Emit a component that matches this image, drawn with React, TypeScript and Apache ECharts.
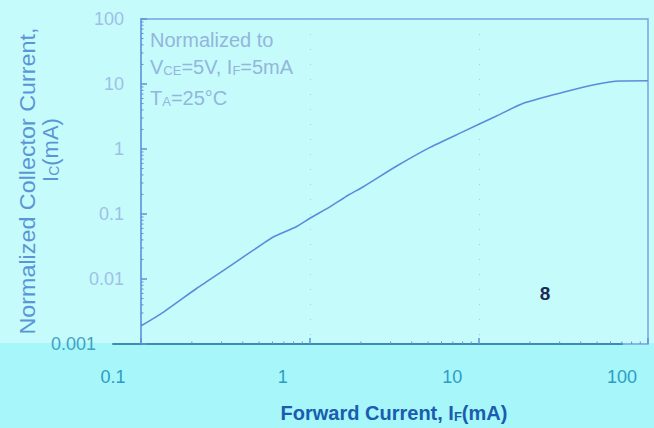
import React, { useEffect, useRef } from 'react';
import * as echarts from 'echarts';

// Forward current I_F (mA) and normalized collector current I_C (mA)
const forwardCurrent = [0.1, 0.136, 0.214, 0.336, 0.53, 0.61, 0.83, 1.0, 1.31, 1.69, 2.07, 3.26, 5.13, 8.07, 12.7, 18.3, 31.5, 49.7, 68.3, 100];
const collectorCurrent = [0.0019, 0.0031, 0.0072, 0.0158, 0.0354, 0.0448, 0.0638, 0.086, 0.129, 0.196, 0.263, 0.547, 1.06, 1.85, 3.22, 5.05, 7.45, 9.9, 11.1, 11.2];

const xTickLabels = ['0.1', '1', '10', '100'];
const yTickLabels = ['0.001', '0.01', '0.1', '1', '10', '100'];

const xMinorTicks = [0.2, 0.3, 0.4, 0.5, 0.6, 0.7, 0.8, 0.9, 2, 3, 4, 5, 6, 7, 8, 9, 20, 30, 40, 50, 60, 70, 80, 90];
const yMinorTicks = [
  0.002, 0.003, 0.004, 0.005, 0.006, 0.007, 0.008, 0.009,
  0.02, 0.03, 0.04, 0.05, 0.06, 0.07, 0.08, 0.09,
  0.2, 0.3, 0.4, 0.5, 0.6, 0.7, 0.8, 0.9,
  2, 3, 4, 5, 6, 7, 8, 9,
  20, 30, 40, 50, 60, 70, 80, 90,
];

const X_MIN = 0.1;
const X_MAX = 100;
const Y_MIN = 0.001;
const Y_MAX = 100;

const FONT = "'Liberation Sans', Arial, sans-serif";
const TOP_BG = '#c6fbfb';
const BAND_BG = '#a6f6fa';
const TICK = '#5f93d4';

const xLabel = (v: number) => xTickLabels[Math.round(Math.log10(v)) + 1] ?? '';
const yLabel = (v: number) => {
  const i = Math.round(Math.log10(v)) + 3;
  const t = yTickLabels[i] ?? '';
  return i === 0 ? `{low|${t}}` : t;
};

const series = forwardCurrent.map((x, i) => [x, collectorCurrent[i]]);

const minorTickSeries = (data: number[][], horizontal: boolean, len: number) => ({
  type: 'custom', xAxisIndex: 0, yAxisIndex: 0, silent: true, clip: false, z: 3,
  data,
  renderItem: (_p: any, api: any) => {
    const pt = api.coord([api.value(0), api.value(1)]);
    return {
      type: 'line',
      shape: horizontal
        ? { x1: pt[0], y1: pt[1], x2: pt[0] + len, y2: pt[1] }
        : { x1: pt[0], y1: pt[1], x2: pt[0], y2: pt[1] - len },
      style: { stroke: TICK, lineWidth: 1 },
    };
  },
});

const option: any = {
  animation: false,
  backgroundColor: {
    type: 'linear', x: 0, y: 0, x2: 0, y2: 1,
    colorStops: [
      { offset: 0, color: TOP_BG },
      { offset: 343 / 428, color: TOP_BG },
      { offset: 343 / 428, color: BAND_BG },
      { offset: 1, color: BAND_BG },
    ],
  },
  grid: [
    { left: 141, right: 6, top: 19, bottom: 84, show: true, borderColor: '#74a4e4', borderWidth: 1.5, backgroundColor: 'transparent' },
    { left: 113, right: 32, top: 19, bottom: 84 },
  ],
  xAxis: [
    {
      gridIndex: 0, type: 'log', logBase: 10, min: X_MIN, max: X_MAX, position: 'bottom',
      axisLine: { show: false },
      axisLabel: { show: false },
      axisTick: { show: true, inside: true, length: 6, lineStyle: { color: TICK, width: 1.5 } },
      splitLine: { show: true, lineStyle: { color: 'rgba(140,190,235,0.7)', type: [1, 14] } },
    },
    {
      gridIndex: 1, type: 'log', logBase: 10, min: X_MIN, max: X_MAX, position: 'bottom',
      axisLine: { show: true, lineStyle: { color: '#3b8db4', width: 2 } },
      axisTick: { show: false },
      axisLabel: { show: true, margin: 24, fontSize: 18, color: '#2e9dc2', fontFamily: FONT, formatter: xLabel, showMinLabel: true, showMaxLabel: true },
      splitLine: { show: false },
    },
  ],
  yAxis: [
    {
      gridIndex: 0, type: 'log', logBase: 10, min: Y_MIN, max: Y_MAX, position: 'left',
      axisLine: { show: true, lineStyle: { color: '#6d9fe3', width: 1.5 } },
      axisTick: { show: true, inside: true, length: 6, lineStyle: { color: TICK, width: 1.5 } },
      axisLabel: {
        show: true, margin: 17, fontSize: 18, color: '#9fc0e6', fontFamily: FONT, formatter: yLabel,
        showMinLabel: true, showMaxLabel: true,
        rich: { low: { fontSize: 18, color: '#3fa2c4', fontFamily: FONT, padding: [0, 28, 0, 0] } },
      },
      splitLine: { show: false },
    },
    { gridIndex: 1, type: 'value', show: false },
  ],
  series: [
    {
      type: 'line', xAxisIndex: 0, yAxisIndex: 0, data: series,
      showSymbol: false, smooth: 0.2,
      lineStyle: { color: '#5a8cdc', width: 1.6 },
    },
    minorTickSeries(yMinorTicks.map((v) => [X_MIN, v]), true, 2.5),
    minorTickSeries(xMinorTicks.map((v) => [v, Y_MIN]), false, 2.5),
  ],
  graphic: [
    {
      type: 'text', x: 27, y: 181, rotation: Math.PI / 2, scaleX: 1.06,
      style: { text: 'Normalized Collector Current,', fontSize: 22, fontFamily: FONT, fill: '#5a96d6', align: 'center', verticalAlign: 'middle' },
    },
    {
      type: 'text', x: 50, y: 150, rotation: Math.PI / 2,
      style: {
        text: 'I{s|C}(mA)', fontSize: 22, fontFamily: FONT, fill: '#5a96d6', align: 'center', verticalAlign: 'middle',
        rich: { s: { fontSize: 14, fontFamily: FONT, fill: '#5a96d6', verticalAlign: 'bottom' } },
      },
    },
    {
      type: 'text', x: 394, y: 413,
      style: {
        text: 'Forward Current, I{s|F}(mA)', fontSize: 20, fontWeight: 'bold', fontFamily: FONT, fill: '#1a5cae', align: 'center', verticalAlign: 'middle',
        rich: { s: { fontSize: 13, fontWeight: 'bold', fontFamily: FONT, fill: '#1a5cae', verticalAlign: 'bottom' } },
      },
    },
    {
      type: 'text', x: 150, y: 40,
      style: { text: 'Normalized to', fontSize: 20, fontFamily: FONT, fill: '#93b6dc', align: 'left', verticalAlign: 'middle' },
    },
    {
      type: 'text', x: 150, y: 67,
      style: {
        text: 'V{s|CE}=5V, I{s|F}=5mA', fontSize: 20, fontFamily: FONT, fill: '#93b6dc', align: 'left', verticalAlign: 'middle',
        rich: { s: { fontSize: 13, fontFamily: FONT, fill: '#93b6dc', verticalAlign: 'bottom' } },
      },
    },
    {
      type: 'text', x: 150, y: 98,
      style: {
        text: 'T{s|A}=25°C', fontSize: 20, fontFamily: FONT, fill: '#93b6dc', align: 'left', verticalAlign: 'middle',
        rich: { s: { fontSize: 13, fontFamily: FONT, fill: '#93b6dc', verticalAlign: 'bottom' } },
      },
    },
    {
      type: 'text', x: 545, y: 293,
      style: { text: '8', fontSize: 19, fontWeight: 'bold', fontFamily: FONT, fill: '#1b2a55', align: 'center', verticalAlign: 'middle' },
    },
  ],
};

export default function App() {
  const ref = useRef<HTMLDivElement>(null);
  useEffect(() => {
    const chart = echarts.init(ref.current!, null, { renderer: 'svg' });
    chart.setOption(option);
    return () => chart.dispose();
  }, []);
  return <div ref={ref} style={{ position: 'fixed', left: 0, top: 0, width: 654, height: 428 }} />;
}
